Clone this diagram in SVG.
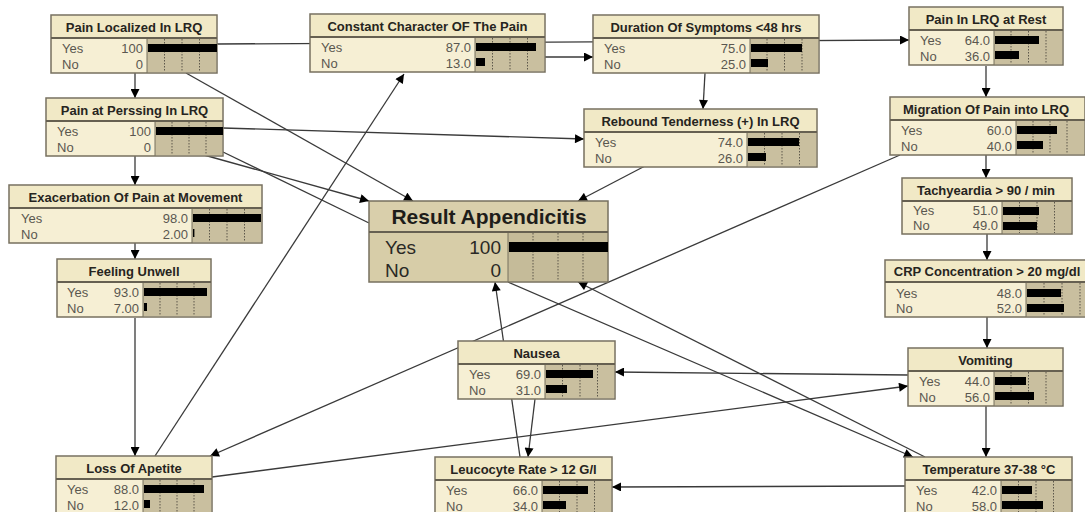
<svg xmlns="http://www.w3.org/2000/svg" width="1085" height="512" viewBox="0 0 1085 512">
<style>
.bx{fill:#f6efd4;stroke:#77705f;stroke-width:1.5}
.hd{fill:#f1e9c6}
.bg{fill:#c9bf9f}
.rbx{fill:#d7cda8;stroke:#77705f;stroke-width:1.5}
.rhd{fill:#d9cfab}
.rbg{fill:#c5bb99}
.sep{stroke:#666051;stroke-width:2}
.vl{stroke:#77705f;stroke-width:1}
.dv{stroke:#5c574a;stroke-width:1;stroke-dasharray:1.5 1.5}
.t{font-family:"Liberation Sans",Arial,sans-serif;font-weight:bold;font-size:13px;fill:#262420;text-anchor:middle}
.r{font-family:"Liberation Sans",Arial,sans-serif;font-size:13px;fill:#5a5750}
.v{font-family:"Liberation Sans",Arial,sans-serif;font-size:13px;fill:#5a5750;text-anchor:end}
.rt{font-family:"Liberation Sans",Arial,sans-serif;font-weight:bold;font-size:21px;fill:#1e1d1a;text-anchor:middle}
.rr{font-family:"Liberation Sans",Arial,sans-serif;font-size:19px;fill:#2a2925}
.rv{font-family:"Liberation Sans",Arial,sans-serif;font-size:19px;fill:#2a2925;text-anchor:end}
.b{fill:#000}
.c{stroke:#3a3a3a;stroke-width:1.3;fill:none}
.a{marker-end:url(#ah)}
</style>
<defs>
<marker id="ah" viewBox="0 0 10 10" refX="10" refY="5" markerWidth="10" markerHeight="9" markerUnits="userSpaceOnUse" orient="auto"><path d="M0,0 L10,5 L0,10 z" fill="#000"/></marker>
</defs>
<rect width="1085" height="512" fill="#fff"/>
<g id="connectors">
<path class="c a" d="M135,73 L135,98"/>
<path class="c a" d="M217,44 L909,40"/>
<path class="c a" d="M545,57 L593,57"/>
<path class="c a" d="M186,73 L413,201"/>
<path class="c a" d="M223,128 L584,139"/>
<path class="c a" d="M204,155 L369,201"/>
<path class="c" d="M223,152 L369,223"/>
<path class="c a" d="M135,155 L135,185"/>
<path class="c a" d="M135,243 L135,259"/>
<path class="c a" d="M135,318 L135,456"/>
<path class="c a" d="M155,456 L404,74"/>
<path class="c a" d="M900,155 L210,456"/>
<path class="c a" d="M212,477 L908,386"/>
<path class="c a" d="M520,457 L495,282"/>
<path class="c a" d="M535,399 L528,457"/>
<path class="c a" d="M508,282 L913,457"/>
<path class="c a" d="M925,457 L578,282"/>
<path class="c a" d="M908,375 L615,372"/>
<path class="c a" d="M905,486 L612,487"/>
<path class="c a" d="M986,66 L986,97"/>
<path class="c a" d="M986,155 L986,178"/>
<path class="c a" d="M987,233 L987,260"/>
<path class="c a" d="M987,317 L987,348"/>
<path class="c a" d="M986,406 L986,457"/>
<path class="c a" d="M705,73 L703,109"/>
<path class="c a" d="M645,166 L578,201"/>
</g>

<g id="pain-localized">
<rect class="bx" x="51" y="15" width="166" height="58"/>
<rect class="hd" x="52" y="16" width="164" height="22"/>
<rect class="bg" x="147" y="38" width="69" height="34"/>
<line class="vl" x1="147" y1="38" x2="147" y2="73"/>
<line class="dv" x1="164.5" y1="39" x2="164.5" y2="72"/><line class="dv" x1="182" y1="39" x2="182" y2="72"/><line class="dv" x1="199.5" y1="39" x2="199.5" y2="72"/>
<line class="sep" x1="51" y1="38" x2="217" y2="38"/>
<text class="t" x="134" y="31.5">Pain Localized In LRQ</text>
<text class="r" x="62" y="52.5">Yes</text><text class="r" x="62" y="68.5">No</text>
<text class="v" x="143" y="52.5">100</text><text class="v" x="143" y="68.5">0</text>
<rect class="b" x="148" y="44" width="69" height="8"/>
</g>

<g id="pain-perssing">
<rect class="bx" x="46" y="98" width="177" height="58"/>
<rect class="hd" x="47" y="99" width="175" height="22"/>
<rect class="bg" x="155" y="121" width="67" height="34"/>
<line class="vl" x1="155" y1="121" x2="155" y2="156"/>
<line class="dv" x1="172" y1="122" x2="172" y2="155"/><line class="dv" x1="189" y1="122" x2="189" y2="155"/><line class="dv" x1="206" y1="122" x2="206" y2="155"/>
<line class="sep" x1="46" y1="121" x2="223" y2="121"/>
<text class="t" x="134.5" y="114.5">Pain at Perssing In LRQ</text>
<text class="r" x="57" y="135.5">Yes</text><text class="r" x="57" y="151.5">No</text>
<text class="v" x="151" y="135.5">100</text><text class="v" x="151" y="151.5">0</text>
<rect class="b" x="156" y="127" width="67" height="8"/>
</g>

<g id="constant-character">
<rect class="bx" x="310" y="14" width="235" height="58"/>
<rect class="hd" x="311" y="15" width="233" height="22"/>
<rect class="bg" x="475" y="37" width="69" height="34"/>
<line class="vl" x1="475" y1="37" x2="475" y2="72"/>
<line class="dv" x1="492.5" y1="38" x2="492.5" y2="71"/><line class="dv" x1="510" y1="38" x2="510" y2="71"/><line class="dv" x1="527.5" y1="38" x2="527.5" y2="71"/>
<line class="sep" x1="310" y1="37" x2="545" y2="37"/>
<text class="t" x="427.5" y="30.5">Constant Character OF The Pain</text>
<text class="r" x="321" y="51.5">Yes</text><text class="r" x="321" y="67.5">No</text>
<text class="v" x="471" y="51.5">87.0</text><text class="v" x="471" y="67.5">13.0</text>
<rect class="b" x="476" y="43" width="60" height="8"/><rect class="b" x="476" y="58" width="9" height="8"/>
</g>

<g id="duration-symptoms">
<rect class="bx" x="593" y="15" width="226" height="58"/>
<rect class="hd" x="594" y="16" width="224" height="22"/>
<rect class="bg" x="750" y="38" width="68" height="34"/>
<line class="vl" x1="750" y1="38" x2="750" y2="73"/>
<line class="dv" x1="767" y1="39" x2="767" y2="72"/><line class="dv" x1="784.5" y1="39" x2="784.5" y2="72"/><line class="dv" x1="802" y1="39" x2="802" y2="72"/>
<line class="sep" x1="593" y1="38" x2="819" y2="38"/>
<text class="t" x="706" y="31.5">Duration Of Symptoms &lt;48 hrs</text>
<text class="r" x="604" y="52.5">Yes</text><text class="r" x="604" y="68.5">No</text>
<text class="v" x="746" y="52.5">75.0</text><text class="v" x="746" y="68.5">25.0</text>
<rect class="b" x="751" y="44" width="51" height="8"/><rect class="b" x="751" y="59" width="17" height="8"/>
</g>

<g id="rebound-tenderness">
<rect class="bx" x="584" y="109" width="233" height="58"/>
<rect class="hd" x="585" y="110" width="231" height="22"/>
<rect class="bg" x="747" y="132" width="69" height="34"/>
<line class="vl" x1="747" y1="132" x2="747" y2="167"/>
<line class="dv" x1="764.5" y1="133" x2="764.5" y2="166"/><line class="dv" x1="782" y1="133" x2="782" y2="166"/><line class="dv" x1="799.5" y1="133" x2="799.5" y2="166"/>
<line class="sep" x1="584" y1="132" x2="817" y2="132"/>
<text class="t" x="700.5" y="125.5">Rebound Tenderness (+) In LRQ</text>
<text class="r" x="595" y="146.5">Yes</text><text class="r" x="595" y="162.5">No</text>
<text class="v" x="743" y="146.5">74.0</text><text class="v" x="743" y="162.5">26.0</text>
<rect class="b" x="748" y="138" width="51" height="8"/><rect class="b" x="748" y="153" width="18" height="8"/>
</g>

<g id="pain-rest">
<rect class="bx" x="909" y="7" width="154" height="58"/>
<rect class="hd" x="910" y="8" width="152" height="22"/>
<rect class="bg" x="994" y="30" width="68" height="34"/>
<line class="vl" x1="994" y1="30" x2="994" y2="65"/>
<line class="dv" x1="1011" y1="31" x2="1011" y2="64"/><line class="dv" x1="1028.5" y1="31" x2="1028.5" y2="64"/><line class="dv" x1="1046" y1="31" x2="1046" y2="64"/>
<line class="sep" x1="909" y1="30" x2="1063" y2="30"/>
<text class="t" x="986" y="23.5">Pain In LRQ at Rest</text>
<text class="r" x="920" y="44.5">Yes</text><text class="r" x="920" y="60.5">No</text>
<text class="v" x="990" y="44.5">64.0</text><text class="v" x="990" y="60.5">36.0</text>
<rect class="b" x="995" y="36" width="44" height="8"/><rect class="b" x="995" y="51" width="24" height="8"/>
</g>

<g id="migration">
<rect class="bx" x="890" y="97" width="195" height="58"/>
<rect class="hd" x="891" y="98" width="193" height="22"/>
<rect class="bg" x="1016" y="120" width="68" height="34"/>
<line class="vl" x1="1016" y1="120" x2="1016" y2="155"/>
<line class="dv" x1="1033" y1="121" x2="1033" y2="154"/><line class="dv" x1="1050" y1="121" x2="1050" y2="154"/><line class="dv" x1="1067" y1="121" x2="1067" y2="154"/>
<line class="sep" x1="890" y1="120" x2="1085" y2="120"/>
<text class="t" x="986" y="113.5">Migration Of Pain into LRQ</text>
<text class="r" x="901" y="134.5">Yes</text><text class="r" x="901" y="150.5">No</text>
<text class="v" x="1012" y="134.5">60.0</text><text class="v" x="1012" y="150.5">40.0</text>
<rect class="b" x="1017" y="126" width="40" height="8"/><rect class="b" x="1017" y="141" width="26" height="8"/>
</g>

<g id="exacerbation">
<rect class="bx" x="9" y="185" width="253" height="58"/>
<rect class="hd" x="10" y="186" width="251" height="22"/>
<rect class="bg" x="192" y="208" width="69" height="34"/>
<line class="vl" x1="192" y1="208" x2="192" y2="243"/>
<line class="dv" x1="209.5" y1="209" x2="209.5" y2="242"/><line class="dv" x1="227" y1="209" x2="227" y2="242"/><line class="dv" x1="244.5" y1="209" x2="244.5" y2="242"/>
<line class="sep" x1="9" y1="208" x2="262" y2="208"/>
<text class="t" x="135.5" y="201.5">Exacerbation Of Pain at Movement</text>
<text class="r" x="21" y="222.5">Yes</text><text class="r" x="21" y="238.5">No</text>
<text class="v" x="188" y="222.5">98.0</text><text class="v" x="188" y="238.5">2.00</text>
<rect class="b" x="193" y="214" width="68" height="8"/><rect class="b" x="193" y="229" width="1.4" height="8"/>
</g>

<g id="feeling-unwell">
<rect class="bx" x="57" y="259" width="154" height="58"/>
<rect class="hd" x="58" y="260" width="152" height="22"/>
<rect class="bg" x="143" y="282" width="67" height="34"/>
<line class="vl" x1="143" y1="282" x2="143" y2="317"/>
<line class="dv" x1="160" y1="283" x2="160" y2="316"/><line class="dv" x1="177" y1="283" x2="177" y2="316"/><line class="dv" x1="194" y1="283" x2="194" y2="316"/>
<line class="sep" x1="57" y1="282" x2="211" y2="282"/>
<text class="t" x="134" y="275.5">Feeling Unwell</text>
<text class="r" x="67" y="296.5">Yes</text><text class="r" x="67" y="312.5">No</text>
<text class="v" x="139" y="296.5">93.0</text><text class="v" x="139" y="312.5">7.00</text>
<rect class="b" x="144" y="288" width="63" height="8"/><rect class="b" x="144" y="303" width="3" height="8"/>
</g>

<g id="result-appendicitis">
<rect class="rbx" x="369" y="201" width="239" height="81"/>
<rect class="rhd" x="370" y="202" width="237" height="30"/>
<rect class="rbg" x="508" y="232" width="99" height="49"/>
<line class="vl" x1="508" y1="232" x2="508" y2="282"/>
<line class="dv" x1="533" y1="233" x2="533" y2="281"/><line class="dv" x1="558" y1="233" x2="558" y2="281"/><line class="dv" x1="583" y1="233" x2="583" y2="281"/>
<line class="sep" x1="369" y1="232" x2="608" y2="232"/>
<text class="rt" x="489" y="224">Result Appendicitis</text>
<text class="rr" x="385" y="254">Yes</text><text class="rr" x="385" y="277">No</text>
<text class="rv" x="501" y="254">100</text><text class="rv" x="501" y="277">0</text>
<rect class="b" x="509" y="242" width="99" height="10"/>
</g>

<g id="tachyeardia">
<rect class="bx" x="902" y="178" width="170" height="56"/>
<rect class="hd" x="903" y="179" width="168" height="22"/>
<rect class="bg" x="1002" y="201" width="69" height="32"/>
<line class="vl" x1="1002" y1="201" x2="1002" y2="234"/>
<line class="dv" x1="1019.5" y1="202" x2="1019.5" y2="233"/><line class="dv" x1="1037" y1="202" x2="1037" y2="233"/><line class="dv" x1="1054.5" y1="202" x2="1054.5" y2="233"/>
<line class="sep" x1="902" y1="201" x2="1072" y2="201"/>
<text class="t" x="986" y="194.5">Tachyeardia &gt; 90 / min</text>
<text class="r" x="913" y="215">Yes</text><text class="r" x="913" y="230">No</text>
<text class="v" x="998" y="215">51.0</text><text class="v" x="998" y="230">49.0</text>
<rect class="b" x="1003" y="207" width="36" height="8"/><rect class="b" x="1003" y="222" width="34" height="8"/>
</g>

<g id="crp-concentration">
<rect class="bx" x="885" y="260" width="215" height="57"/>
<rect class="hd" x="886" y="261" width="213" height="21"/>
<rect class="bg" x="1026" y="282" width="72" height="34"/>
<line class="vl" x1="1026" y1="282" x2="1026" y2="317"/>
<line class="dv" x1="1044" y1="283" x2="1044" y2="316"/><line class="dv" x1="1062" y1="283" x2="1062" y2="316"/><line class="dv" x1="1080" y1="283" x2="1080" y2="316"/>
<line class="sep" x1="885" y1="282" x2="1085" y2="282"/>
<text class="t" x="987" y="276">CRP Concentration &gt; 20 mg/dl</text>
<text class="r" x="896" y="297.5">Yes</text><text class="r" x="896" y="313">No</text>
<text class="v" x="1022" y="297.5">48.0</text><text class="v" x="1022" y="313">52.0</text>
<rect class="b" x="1027" y="289" width="34" height="8"/><rect class="b" x="1027" y="304" width="37" height="8"/>
</g>

<g id="vomiting">
<rect class="bx" x="908" y="348" width="155" height="58"/>
<rect class="hd" x="909" y="349" width="153" height="22"/>
<rect class="bg" x="994" y="371" width="68" height="34"/>
<line class="vl" x1="994" y1="371" x2="994" y2="406"/>
<line class="dv" x1="1011" y1="372" x2="1011" y2="405"/><line class="dv" x1="1028.5" y1="372" x2="1028.5" y2="405"/><line class="dv" x1="1046" y1="372" x2="1046" y2="405"/>
<line class="sep" x1="908" y1="371" x2="1063" y2="371"/>
<text class="t" x="985.5" y="364.5">Vomiting</text>
<text class="r" x="919" y="385.5">Yes</text><text class="r" x="919" y="401.5">No</text>
<text class="v" x="990" y="385.5">44.0</text><text class="v" x="990" y="401.5">56.0</text>
<rect class="b" x="995" y="377" width="31" height="8"/><rect class="b" x="995" y="392" width="39" height="8"/>
</g>

<g id="temperature">
<rect class="bx" x="905" y="457" width="167" height="58"/>
<rect class="hd" x="906" y="458" width="165" height="22"/>
<rect class="bg" x="1001" y="480" width="70" height="34"/>
<line class="vl" x1="1001" y1="480" x2="1001" y2="515"/>
<line class="dv" x1="1018.5" y1="481" x2="1018.5" y2="514"/><line class="dv" x1="1036" y1="481" x2="1036" y2="514"/><line class="dv" x1="1053.5" y1="481" x2="1053.5" y2="514"/>
<line class="sep" x1="905" y1="480" x2="1072" y2="480"/>
<text class="t" x="989" y="473.5">Temperature 37-38 °C</text>
<text class="r" x="916" y="494.5">Yes</text><text class="r" x="916" y="510.5">No</text>
<text class="v" x="997" y="494.5">42.0</text><text class="v" x="997" y="510.5">58.0</text>
<rect class="b" x="1002" y="486" width="30" height="8"/><rect class="b" x="1002" y="501" width="41" height="8"/>
</g>

<g id="nausea">
<rect class="bx" x="458" y="341" width="157" height="58"/>
<rect class="hd" x="459" y="342" width="155" height="22"/>
<rect class="bg" x="545" y="364" width="69" height="34"/>
<line class="vl" x1="545" y1="364" x2="545" y2="399"/>
<line class="dv" x1="562.5" y1="365" x2="562.5" y2="398"/><line class="dv" x1="580" y1="365" x2="580" y2="398"/><line class="dv" x1="597.5" y1="365" x2="597.5" y2="398"/>
<line class="sep" x1="458" y1="364" x2="615" y2="364"/>
<text class="t" x="536.5" y="357.5">Nausea</text>
<text class="r" x="469" y="378.5">Yes</text><text class="r" x="469" y="394.5">No</text>
<text class="v" x="541" y="378.5">69.0</text><text class="v" x="541" y="394.5">31.0</text>
<rect class="b" x="546" y="370" width="47" height="8"/><rect class="b" x="546" y="385" width="21" height="8"/>
</g>

<g id="leucocyte-rate">
<rect class="bx" x="435" y="457" width="177" height="58"/>
<rect class="hd" x="436" y="458" width="175" height="22"/>
<rect class="bg" x="542" y="480" width="69" height="34"/>
<line class="vl" x1="542" y1="480" x2="542" y2="515"/>
<line class="dv" x1="559.5" y1="481" x2="559.5" y2="514"/><line class="dv" x1="577" y1="481" x2="577" y2="514"/><line class="dv" x1="594.5" y1="481" x2="594.5" y2="514"/>
<line class="sep" x1="435" y1="480" x2="612" y2="480"/>
<text class="t" x="523.5" y="473.5">Leucocyte Rate &gt; 12 G/l</text>
<text class="r" x="446" y="494.5">Yes</text><text class="r" x="446" y="510.5">No</text>
<text class="v" x="538" y="494.5">66.0</text><text class="v" x="538" y="510.5">34.0</text>
<rect class="b" x="543" y="486" width="45" height="8"/><rect class="b" x="543" y="501" width="23" height="8"/>
</g>

<g id="loss-of-apetite">
<rect class="bx" x="56" y="456" width="156" height="58"/>
<rect class="hd" x="57" y="457" width="154" height="22"/>
<rect class="bg" x="143" y="479" width="68" height="34"/>
<line class="vl" x1="143" y1="479" x2="143" y2="514"/>
<line class="dv" x1="160" y1="480" x2="160" y2="513"/><line class="dv" x1="177" y1="480" x2="177" y2="513"/><line class="dv" x1="194" y1="480" x2="194" y2="513"/>
<line class="sep" x1="56" y1="479" x2="212" y2="479"/>
<text class="t" x="134" y="472.5">Loss Of Apetite</text>
<text class="r" x="67" y="493.5">Yes</text><text class="r" x="67" y="509.5">No</text>
<text class="v" x="139" y="493.5">88.0</text><text class="v" x="139" y="509.5">12.0</text>
<rect class="b" x="144" y="485" width="60" height="8"/><rect class="b" x="144" y="500" width="6" height="8"/>
</g>
</svg>
